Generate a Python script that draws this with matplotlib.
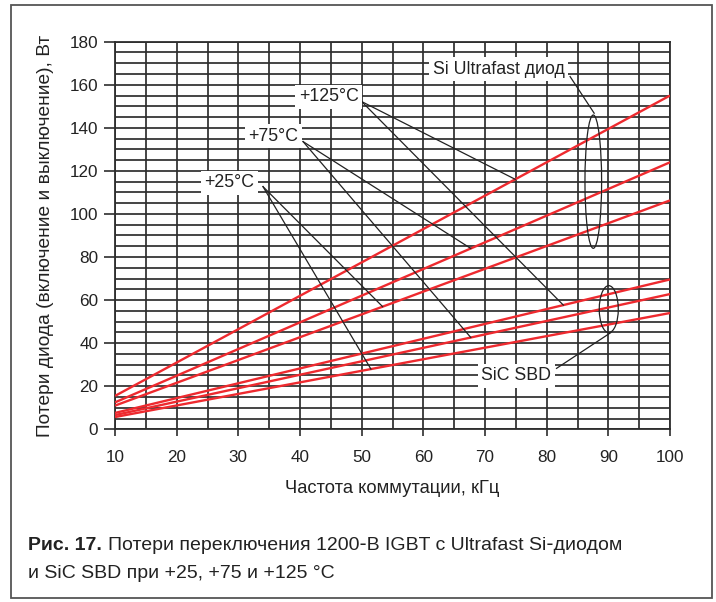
import numpy as np
import matplotlib
matplotlib.use("Agg")
import matplotlib.pyplot as plt
from matplotlib.patches import Ellipse, Rectangle

# ---- data ----
freq_khz = [10, 100]
si_125 = [15.5, 155.0]
si_75 = [12.5, 124.0]
si_25 = [11.0, 106.3]
sic_125 = [7.6, 69.6]
sic_75 = [6.6, 62.8]
sic_25 = [5.7, 54.0]
series = [si_125, si_75, si_25, sic_125, sic_75, sic_25]

x_ticks = [10, 20, 30, 40, 50, 60, 70, 80, 90, 100]
y_ticks = [0, 20, 40, 60, 80, 100, 120, 140, 160, 180]

temp_labels = ["+125°C", "+75°C", "+25°C"]
temp_label_xy = [(44.7, 154.5), (35.7, 136.2), (28.5, 114.5)]
temp_leader_start = [(50.0, 152.2), (40.5, 133.6), (34.0, 112.7)]
temp_targets = [(si_125, 74.9, sic_125, 82.7), (si_75, 67.7, sic_75, 67.7), (si_25, 53.4, sic_25, 51.5)]

FONT = ["Liberation Sans", "DejaVu Sans"]
plt.rcParams['font.family'] = FONT

W, H = 716, 602
fig = plt.figure(figsize=(W / 100, H / 100), dpi=100)
ax = fig.add_axes([115 / W, 1 - 429.3 / H, (670 - 115) / W, (429.3 - 41.7) / H])

grid_c = "#2e2e2e"
# grid
for xv in np.arange(10, 100.1, 5):
    ax.axvline(xv, color=grid_c, lw=1.25, zorder=1)
for yv in np.arange(0, 180.1, 5):
    ax.axhline(yv, color=grid_c, lw=1.25, zorder=1)

for s in series:
    ax.plot(freq_khz, s, color="#ee2a2f", lw=1.7, zorder=3, solid_capstyle="butt")

ax.set_xlim(10, 100)
ax.set_ylim(0, 180)
ax.set_xticks(x_ticks)
ax.set_yticks(y_ticks)
ax.tick_params(axis="both", direction="out", color=grid_c, width=1.2, labelsize=12.3, labelcolor="#222222")
ax.tick_params(axis="y", length=8, pad=4)
ax.tick_params(axis="x", length=5, pad=10)
for sp in ax.spines.values():
    sp.set_color(grid_c)
    sp.set_linewidth(1.3)

ax.set_xlabel("Частота коммутации, кГц", fontsize=13.2, color="#222222", labelpad=11)
ax.set_ylabel("Потери диода (включение и выключение), Вт", fontsize=13.8, color="#222222", labelpad=11)

box = dict(facecolor="white", edgecolor="none", pad=2.5)

def yon(s, xv):
    return float(np.interp(xv, freq_khz, s))

for lab, (tx, ty), (sx, sy), (sa, xa, sb, xb) in zip(temp_labels, temp_label_xy, temp_leader_start, temp_targets):
    ax.text(tx, ty, lab, fontsize=12.8, ha="center", va="center", color="#222222", bbox=box, zorder=5)
    ax.plot([sx, xa], [sy, yon(sa, xa)], color="#222222", lw=0.9, zorder=4)
    ax.plot([sx, xb], [sy, yon(sb, xb)], color="#222222", lw=0.9, zorder=4)

# Si Ultrafast group
ax.text(72.2, 167.3, "Si Ultrafast диод", fontsize=12.8, ha="center", va="center", color="#222222", bbox=box, zorder=5)
ax.add_patch(Ellipse((87.56, 115.0), 2.7, 61.9, fill=False, edgecolor="#222222", lw=0.9, zorder=4))
ax.plot([83.8, 87.7], [163.8, 146.8], color="#222222", lw=0.9, zorder=4)

# SiC group
ax.text(75.1, 24.9, "SiC SBD", fontsize=12.8, ha="center", va="center", color="#222222", bbox=box, zorder=5)
ax.add_patch(Ellipse((90.07, 55.8), 3.08, 21.8, fill=False, edgecolor="#222222", lw=0.9, zorder=4))
ax.plot([81.6, 90.4], [28.3, 44.9], color="#222222", lw=0.9, zorder=4)

# figure border
fig.patches.append(Rectangle((11 / W, 1 - 598 / H), (712 - 11) / W, (598 - 5) / H,
                             transform=fig.transFigure, fill=False, edgecolor="#555555", lw=1.3))

# caption
fig.canvas.draw()
r = fig.canvas.get_renderer()
t1 = fig.text(28 / W, 1 - 545 / H, "Рис. 17.", fontsize=14, fontweight="bold",
              ha="left", va="center", color="#222222")
bb = t1.get_window_extent(renderer=r)
fig.text((bb.x1 + 6) / W, 1 - 545 / H, "Потери переключения 1200‑В IGBT с Ultrafast Si‑диодом",
         fontsize=14, ha="left", va="center", color="#222222")
fig.text(28 / W, 1 - 573 / H, "и SiC SBD при +25, +75 и +125 °C", fontsize=14,
         ha="left", va="center", color="#222222")

fig.savefig("out.png", dpi=100)
